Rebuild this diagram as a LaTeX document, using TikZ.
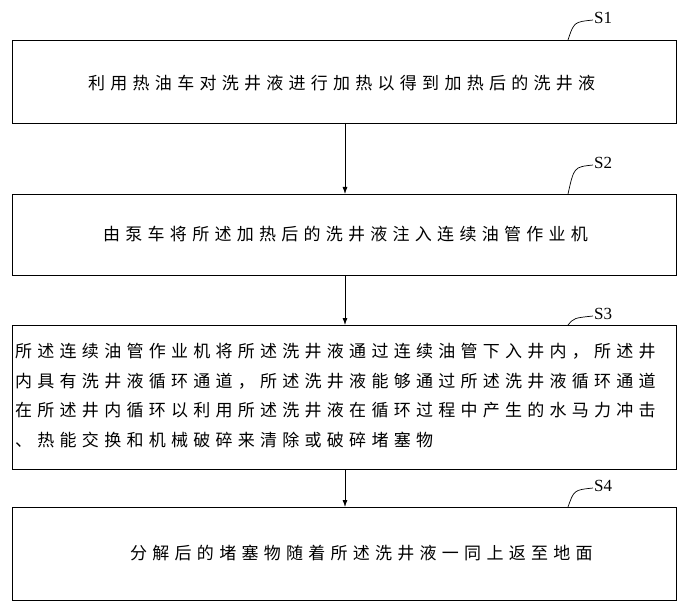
\documentclass[tikz,border=0pt]{standalone}
\usepackage{fontspec}
\usetikzlibrary{arrows.meta}
\newfontfamily\cjk[LetterSpace=31]{Noto Sans CJK SC}
\setmainfont{Liberation Serif}
\begin{document}
\begin{tikzpicture}[x=1pt,y=-1pt,
  stepbox/.style={draw,line width=0.8pt},
  txt/.style={font=\cjk\fontsize{17}{18}\selectfont,anchor=west,inner sep=0},
  lab/.style={font=\fontsize{17}{18}\selectfont,anchor=west,inner sep=0},
  arr/.style={-{Latex[length=7pt,width=5pt]},line width=0.8pt}]
\useasboundingbox (0,0) rectangle (694,615);
\draw[stepbox] (12,40) rectangle (676,123);
\draw[stepbox] (12,194) rectangle (676,275);
\draw[stepbox] (12,325) rectangle (676,469);
\draw[stepbox] (12,507) rectangle (676,600);
\coordinate (b1) at (345,123); \coordinate (t2) at (345,194);
\coordinate (b2) at (345,275); \coordinate (t3) at (345,325);
\coordinate (b3) at (345,469); \coordinate (t4) at (345,507);
\draw[arr] (b1) -- (t2);
\draw[arr] (b2) -- (t3);
\draw[arr] (b3) -- (t4);
\node[txt] (x1) at (88,83) {利用热油车对洗井液进行加热以得到加热后的洗井液};
\node[txt] (x2) at (103,234) {由泵车将所述加热后的洗井液注入连续油管作业机};
\node[txt] (x3a) at (15,351) {所述连续油管作业机将所述洗井液通过连续油管下入井内，所述井};
\node[txt] (x3b) at (15,381) {内具有洗井液循环通道，所述洗井液能够通过所述洗井液循环通道};
\node[txt] (x3c) at (15,410) {在所述井内循环以利用所述洗井液在循环过程中产生的水马力冲击};
\node[txt] (x3d) at (15,440) {、热能交换和机械破碎来清除或破碎堵塞物};
\node[txt] (x4) at (130,553) {分解后的堵塞物随着所述洗井液一同上返至地面};
\foreach \y/\yl/\l in {40/18/S1,194/163/S2,325/314/S3,507/486/S4}{
  \draw[line width=0.7pt] (568,\y) .. controls (574,\yl+4) .. (593,\yl+2);
  \node[lab] at (594,\yl) {\l};
}
\end{tikzpicture}
\end{document}
